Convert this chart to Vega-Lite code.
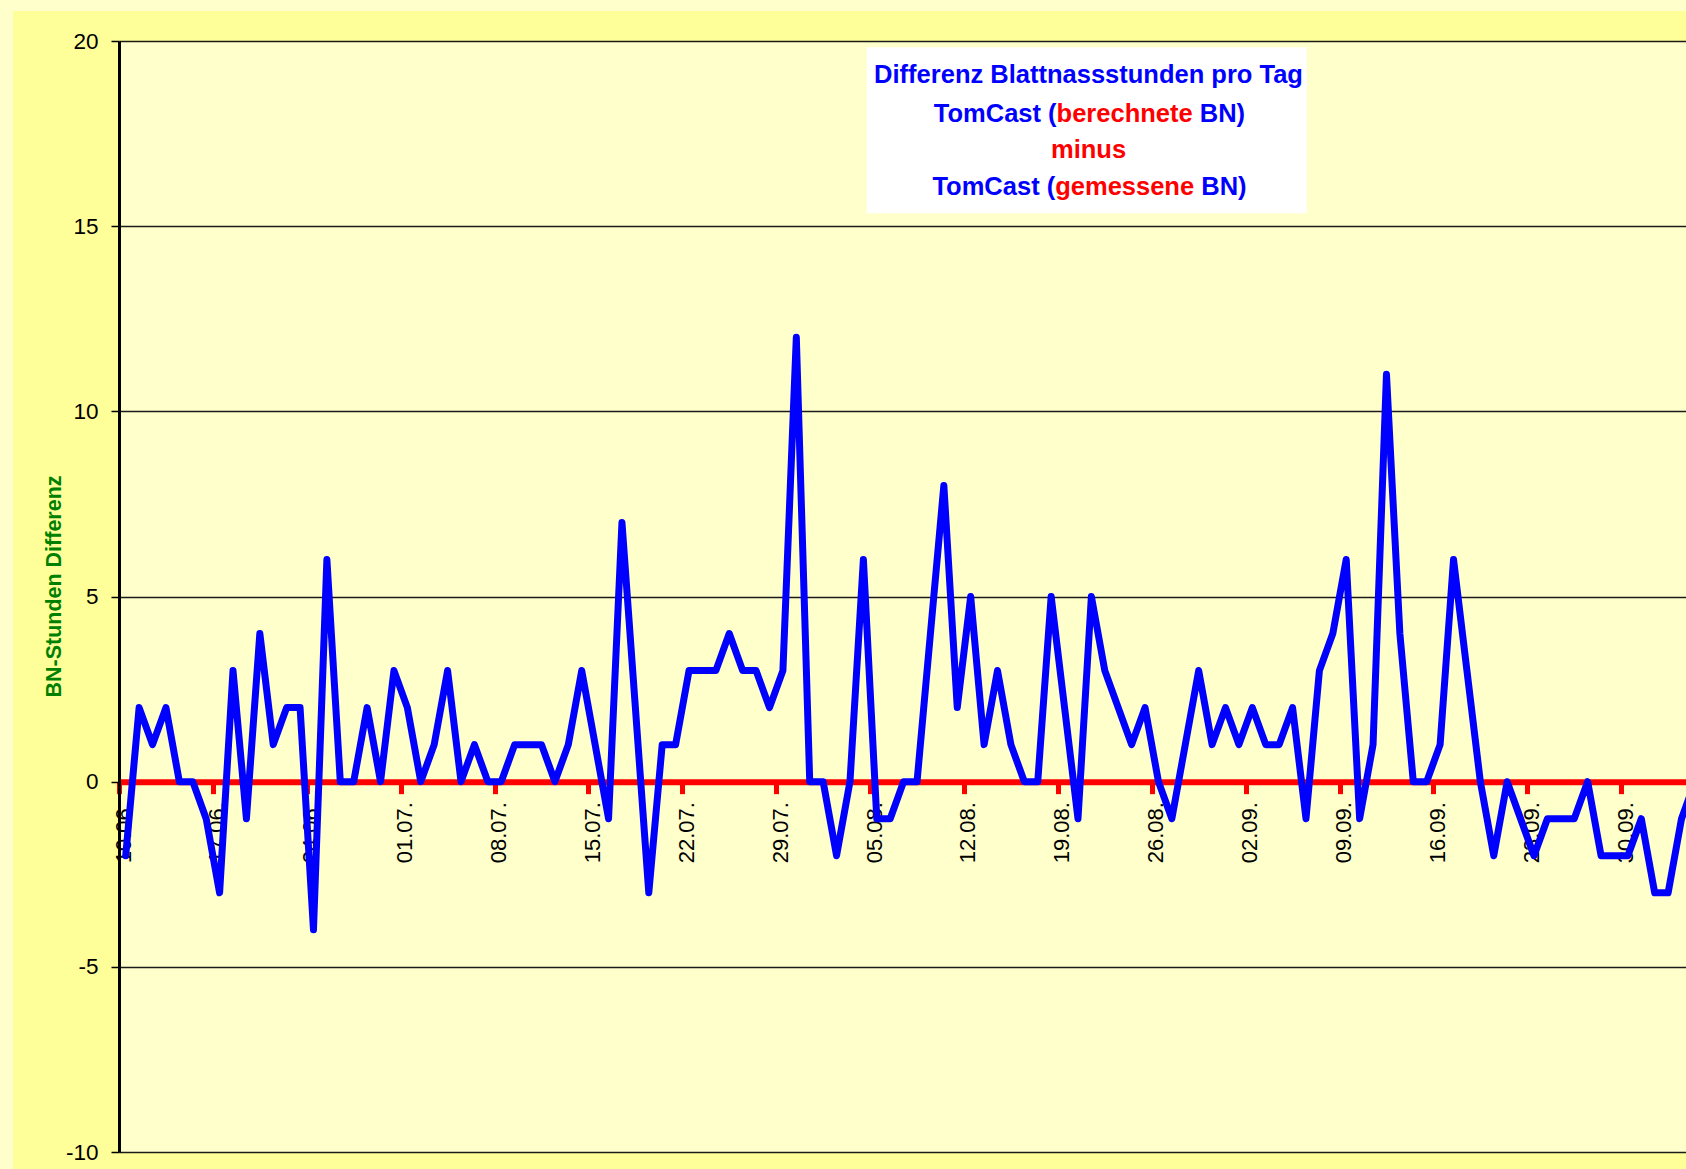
{
  "$schema": "https://vega.github.io/schema/vega-lite/v6.json",
  "autosize": "none",
  "width": 1567,
  "height": 1111,
  "padding": {"left": 119, "top": 41, "right": 0, "bottom": 17},
  "background": "#FFFF99",
  "config": {"view": {"fill": "#FFFFCC", "stroke": null}},
  "datasets": {
    "series": [
      {"date": "2008-06-10T12:00:00Z", "diff": -2},
      {"date": "2008-06-11T12:00:00Z", "diff": 2},
      {"date": "2008-06-12T12:00:00Z", "diff": 1},
      {"date": "2008-06-13T12:00:00Z", "diff": 2},
      {"date": "2008-06-14T12:00:00Z", "diff": 0},
      {"date": "2008-06-15T12:00:00Z", "diff": 0},
      {"date": "2008-06-16T12:00:00Z", "diff": -1},
      {"date": "2008-06-17T12:00:00Z", "diff": -3},
      {"date": "2008-06-18T12:00:00Z", "diff": 3},
      {"date": "2008-06-19T12:00:00Z", "diff": -1},
      {"date": "2008-06-20T12:00:00Z", "diff": 4},
      {"date": "2008-06-21T12:00:00Z", "diff": 1},
      {"date": "2008-06-22T12:00:00Z", "diff": 2},
      {"date": "2008-06-23T12:00:00Z", "diff": 2},
      {"date": "2008-06-24T12:00:00Z", "diff": -4},
      {"date": "2008-06-25T12:00:00Z", "diff": 6},
      {"date": "2008-06-26T12:00:00Z", "diff": 0},
      {"date": "2008-06-27T12:00:00Z", "diff": 0},
      {"date": "2008-06-28T12:00:00Z", "diff": 2},
      {"date": "2008-06-29T12:00:00Z", "diff": 0},
      {"date": "2008-06-30T12:00:00Z", "diff": 3},
      {"date": "2008-07-01T12:00:00Z", "diff": 2},
      {"date": "2008-07-02T12:00:00Z", "diff": 0},
      {"date": "2008-07-03T12:00:00Z", "diff": 1},
      {"date": "2008-07-04T12:00:00Z", "diff": 3},
      {"date": "2008-07-05T12:00:00Z", "diff": 0},
      {"date": "2008-07-06T12:00:00Z", "diff": 1},
      {"date": "2008-07-07T12:00:00Z", "diff": 0},
      {"date": "2008-07-08T12:00:00Z", "diff": 0},
      {"date": "2008-07-09T12:00:00Z", "diff": 1},
      {"date": "2008-07-10T12:00:00Z", "diff": 1},
      {"date": "2008-07-11T12:00:00Z", "diff": 1},
      {"date": "2008-07-12T12:00:00Z", "diff": 0},
      {"date": "2008-07-13T12:00:00Z", "diff": 1},
      {"date": "2008-07-14T12:00:00Z", "diff": 3},
      {"date": "2008-07-15T12:00:00Z", "diff": 1},
      {"date": "2008-07-16T12:00:00Z", "diff": -1},
      {"date": "2008-07-17T12:00:00Z", "diff": 7},
      {"date": "2008-07-18T12:00:00Z", "diff": 2},
      {"date": "2008-07-19T12:00:00Z", "diff": -3},
      {"date": "2008-07-20T12:00:00Z", "diff": 1},
      {"date": "2008-07-21T12:00:00Z", "diff": 1},
      {"date": "2008-07-22T12:00:00Z", "diff": 3},
      {"date": "2008-07-23T12:00:00Z", "diff": 3},
      {"date": "2008-07-24T12:00:00Z", "diff": 3},
      {"date": "2008-07-25T12:00:00Z", "diff": 4},
      {"date": "2008-07-26T12:00:00Z", "diff": 3},
      {"date": "2008-07-27T12:00:00Z", "diff": 3},
      {"date": "2008-07-28T12:00:00Z", "diff": 2},
      {"date": "2008-07-29T12:00:00Z", "diff": 3},
      {"date": "2008-07-30T12:00:00Z", "diff": 12},
      {"date": "2008-07-31T12:00:00Z", "diff": 0},
      {"date": "2008-08-01T12:00:00Z", "diff": 0},
      {"date": "2008-08-02T12:00:00Z", "diff": -2},
      {"date": "2008-08-03T12:00:00Z", "diff": 0},
      {"date": "2008-08-04T12:00:00Z", "diff": 6},
      {"date": "2008-08-05T12:00:00Z", "diff": -1},
      {"date": "2008-08-06T12:00:00Z", "diff": -1},
      {"date": "2008-08-07T12:00:00Z", "diff": 0},
      {"date": "2008-08-08T12:00:00Z", "diff": 0},
      {"date": "2008-08-09T12:00:00Z", "diff": 4},
      {"date": "2008-08-10T12:00:00Z", "diff": 8},
      {"date": "2008-08-11T12:00:00Z", "diff": 2},
      {"date": "2008-08-12T12:00:00Z", "diff": 5},
      {"date": "2008-08-13T12:00:00Z", "diff": 1},
      {"date": "2008-08-14T12:00:00Z", "diff": 3},
      {"date": "2008-08-15T12:00:00Z", "diff": 1},
      {"date": "2008-08-16T12:00:00Z", "diff": 0},
      {"date": "2008-08-17T12:00:00Z", "diff": 0},
      {"date": "2008-08-18T12:00:00Z", "diff": 5},
      {"date": "2008-08-19T12:00:00Z", "diff": 2},
      {"date": "2008-08-20T12:00:00Z", "diff": -1},
      {"date": "2008-08-21T12:00:00Z", "diff": 5},
      {"date": "2008-08-22T12:00:00Z", "diff": 3},
      {"date": "2008-08-23T12:00:00Z", "diff": 2},
      {"date": "2008-08-24T12:00:00Z", "diff": 1},
      {"date": "2008-08-25T12:00:00Z", "diff": 2},
      {"date": "2008-08-26T12:00:00Z", "diff": 0},
      {"date": "2008-08-27T12:00:00Z", "diff": -1},
      {"date": "2008-08-28T12:00:00Z", "diff": 1},
      {"date": "2008-08-29T12:00:00Z", "diff": 3},
      {"date": "2008-08-30T12:00:00Z", "diff": 1},
      {"date": "2008-08-31T12:00:00Z", "diff": 2},
      {"date": "2008-09-01T12:00:00Z", "diff": 1},
      {"date": "2008-09-02T12:00:00Z", "diff": 2},
      {"date": "2008-09-03T12:00:00Z", "diff": 1},
      {"date": "2008-09-04T12:00:00Z", "diff": 1},
      {"date": "2008-09-05T12:00:00Z", "diff": 2},
      {"date": "2008-09-06T12:00:00Z", "diff": -1},
      {"date": "2008-09-07T12:00:00Z", "diff": 3},
      {"date": "2008-09-08T12:00:00Z", "diff": 4},
      {"date": "2008-09-09T12:00:00Z", "diff": 6},
      {"date": "2008-09-10T12:00:00Z", "diff": -1},
      {"date": "2008-09-11T12:00:00Z", "diff": 1},
      {"date": "2008-09-12T12:00:00Z", "diff": 11},
      {"date": "2008-09-13T12:00:00Z", "diff": 4},
      {"date": "2008-09-14T12:00:00Z", "diff": 0},
      {"date": "2008-09-15T12:00:00Z", "diff": 0},
      {"date": "2008-09-16T12:00:00Z", "diff": 1},
      {"date": "2008-09-17T12:00:00Z", "diff": 6},
      {"date": "2008-09-18T12:00:00Z", "diff": 3},
      {"date": "2008-09-19T12:00:00Z", "diff": 0},
      {"date": "2008-09-20T12:00:00Z", "diff": -2},
      {"date": "2008-09-21T12:00:00Z", "diff": 0},
      {"date": "2008-09-22T12:00:00Z", "diff": -1},
      {"date": "2008-09-23T12:00:00Z", "diff": -2},
      {"date": "2008-09-24T12:00:00Z", "diff": -1},
      {"date": "2008-09-25T12:00:00Z", "diff": -1},
      {"date": "2008-09-26T12:00:00Z", "diff": -1},
      {"date": "2008-09-27T12:00:00Z", "diff": 0},
      {"date": "2008-09-28T12:00:00Z", "diff": -2},
      {"date": "2008-09-29T12:00:00Z", "diff": -2},
      {"date": "2008-09-30T12:00:00Z", "diff": -2},
      {"date": "2008-10-01T12:00:00Z", "diff": -1},
      {"date": "2008-10-02T12:00:00Z", "diff": -3},
      {"date": "2008-10-03T12:00:00Z", "diff": -3},
      {"date": "2008-10-04T12:00:00Z", "diff": -1},
      {"date": "2008-10-05T12:00:00Z", "diff": 0}
    ]
  },
  "layer": [
    {
      "data": {"values": [{}]},
      "mark": {"type": "rect", "fill": "#FFFFCC", "clip": false},
      "encoding": {
        "x": {"datum": {"year": 2008, "month": 5, "date": 1, "utc": true}, "type": "temporal"},
        "x2": {"datum": {"year": 2008, "month": 6, "date": 2, "hours": 2, "minutes": 19, "utc": true}},
        "y": {"datum": 30, "type": "quantitative"},
        "y2": {"datum": -20}
      }
    },
    {
      "data": {"values": [{}]},
      "mark": {"type": "rect", "fill": "#FFFFCC", "clip": false},
      "encoding": {
        "x": {"datum": {"year": 2008, "month": 5, "date": 1, "utc": true}, "type": "temporal"},
        "x2": {"datum": {"year": 2008, "month": 12, "date": 1, "utc": true}},
        "y": {"datum": 30, "type": "quantitative"},
        "y2": {"datum": 20.81}
      }
    },
    {
      "data": {"name": "series"},
      "mark": {"type": "line", "color": "#0000FF", "strokeWidth": 7, "strokeJoin": "round", "strokeCap": "round", "clip": true},
      "encoding": {
        "x": {
          "field": "date",
          "type": "temporal",
          "scale": {
            "type": "utc",
            "nice": false,
            "domain": [
              {"year": 2008, "month": 6, "date": 10, "utc": true},
              {"year": 2008, "month": 10, "date": 4, "hours": 20, "utc": true}
            ]
          },
          "axis": {
            "title": null,
            "orient": "bottom",
            "offset": -370.33,
            "format": "%d.%m.",
            "values": [
              {"year": 2008, "month": 6, "date": 10, "utc": true},
              {"year": 2008, "month": 6, "date": 17, "utc": true},
              {"year": 2008, "month": 6, "date": 24, "utc": true},
              {"year": 2008, "month": 7, "date": 1, "utc": true},
              {"year": 2008, "month": 7, "date": 8, "utc": true},
              {"year": 2008, "month": 7, "date": 15, "utc": true},
              {"year": 2008, "month": 7, "date": 22, "utc": true},
              {"year": 2008, "month": 7, "date": 29, "utc": true},
              {"year": 2008, "month": 8, "date": 5, "utc": true},
              {"year": 2008, "month": 8, "date": 12, "utc": true},
              {"year": 2008, "month": 8, "date": 19, "utc": true},
              {"year": 2008, "month": 8, "date": 26, "utc": true},
              {"year": 2008, "month": 9, "date": 2, "utc": true},
              {"year": 2008, "month": 9, "date": 9, "utc": true},
              {"year": 2008, "month": 9, "date": 16, "utc": true},
              {"year": 2008, "month": 9, "date": 23, "utc": true},
              {"year": 2008, "month": 9, "date": 30, "utc": true}
            ],
            "grid": false,
            "domainColor": "#FF0000",
            "domainWidth": 6,
            "tickColor": "#FF0000",
            "tickWidth": 5,
            "tickSize": 12,
            "labelAngle": -90,
            "labelPadding": 8,
            "labelOffset": 4,
            "labelFont": "Liberation Sans",
            "labelFontSize": 22,
            "labelColor": "#000000",
            "labelOverlap": false,
            "labelFlush": false
          }
        },
        "y": {
          "field": "diff",
          "type": "quantitative",
          "scale": {"domain": [-10, 20], "nice": false, "zero": false},
          "axis": {
            "title": "BN-Stunden Differenz",
            "titleFont": "Liberation Sans",
            "titleFontSize": 21.5,
            "titleFontWeight": "bold",
            "titleColor": "#008000",
            "titlePadding": 0,
            "titleY": 545,
            "values": [-10, -5, 0, 5, 10, 15, 20],
            "labelExpr": "'' + datum.value",
            "grid": true,
            "gridColor": "#1a1a1a",
            "gridWidth": 1.5,
            "domainColor": "#000000",
            "domainWidth": 3,
            "tickColor": "#000000",
            "tickWidth": 1.5,
            "tickSize": 8,
            "labelPadding": 13,
            "labelFont": "Liberation Sans",
            "labelFontSize": 22.5,
            "labelColor": "#000000"
          }
        }
      }
    },
    {
      "data": {"values": [{}]},
      "mark": {"type": "rect", "fill": "#FFFFFF"},
      "encoding": {
        "x": {"datum": {"year": 2008, "month": 8, "date": 4, "hours": 17, "minutes": 58, "utc": true}, "type": "temporal"},
        "x2": {"datum": {"year": 2008, "month": 9, "date": 6, "hours": 13, "minutes": 19, "utc": true}},
        "y": {"datum": 19.83, "type": "quantitative"},
        "y2": {"datum": 15.347}
      }
    },
    {
      "data": {"values": [{}]},
      "mark": {"type": "text", "text": "Differenz Blattnassstunden pro Tag", "font": "Liberation Sans", "fontSize": 25.5, "fontWeight": "bold", "color": "#0000FF", "align": "center", "baseline": "alphabetic"},
      "encoding": {
        "x": {"datum": {"year": 2008, "month": 8, "date": 21, "hours": 6, "minutes": 52, "utc": true}, "type": "temporal"},
        "y": {"datum": 18.858, "type": "quantitative"}
      }
    },
    {
      "data": {"values": [{}]},
      "mark": {"type": "text", "text": "TomCast (", "font": "Liberation Sans", "fontSize": 25.5, "fontWeight": "bold", "color": "#0000FF", "align": "right", "baseline": "alphabetic"},
      "encoding": {
        "x": {"datum": {"year": 2008, "month": 8, "date": 18, "hours": 21, "minutes": 46, "utc": true}, "type": "temporal"},
        "y": {"datum": 17.821, "type": "quantitative"}
      }
    },
    {
      "data": {"values": [{}]},
      "mark": {"type": "text", "text": "berechnete", "font": "Liberation Sans", "fontSize": 25.5, "fontWeight": "bold", "color": "#FF0000", "align": "left", "baseline": "alphabetic"},
      "encoding": {
        "x": {"datum": {"year": 2008, "month": 8, "date": 18, "hours": 21, "minutes": 46, "utc": true}, "type": "temporal"},
        "y": {"datum": 17.821, "type": "quantitative"}
      }
    },
    {
      "data": {"values": [{}]},
      "mark": {"type": "text", "text": "BN)", "font": "Liberation Sans", "fontSize": 25.5, "fontWeight": "bold", "color": "#0000FF", "align": "left", "baseline": "alphabetic"},
      "encoding": {
        "x": {"datum": {"year": 2008, "month": 8, "date": 29, "hours": 13, "minutes": 52, "utc": true}, "type": "temporal"},
        "y": {"datum": 17.821, "type": "quantitative"}
      }
    },
    {
      "data": {"values": [{}]},
      "mark": {"type": "text", "text": "minus", "font": "Liberation Sans", "fontSize": 25.5, "fontWeight": "bold", "color": "#FF0000", "align": "center", "baseline": "alphabetic"},
      "encoding": {
        "x": {"datum": {"year": 2008, "month": 8, "date": 21, "hours": 6, "minutes": 52, "utc": true}, "type": "temporal"},
        "y": {"datum": 16.833, "type": "quantitative"}
      }
    },
    {
      "data": {"values": [{}]},
      "mark": {"type": "text", "text": "TomCast (", "font": "Liberation Sans", "fontSize": 25.5, "fontWeight": "bold", "color": "#0000FF", "align": "right", "baseline": "alphabetic"},
      "encoding": {
        "x": {"datum": {"year": 2008, "month": 8, "date": 18, "hours": 19, "minutes": 16, "utc": true}, "type": "temporal"},
        "y": {"datum": 15.842, "type": "quantitative"}
      }
    },
    {
      "data": {"values": [{}]},
      "mark": {"type": "text", "text": "gemessene", "font": "Liberation Sans", "fontSize": 25.5, "fontWeight": "bold", "color": "#FF0000", "align": "left", "baseline": "alphabetic"},
      "encoding": {
        "x": {"datum": {"year": 2008, "month": 8, "date": 18, "hours": 19, "minutes": 16, "utc": true}, "type": "temporal"},
        "y": {"datum": 15.842, "type": "quantitative"}
      }
    },
    {
      "data": {"values": [{}]},
      "mark": {"type": "text", "text": "BN)", "font": "Liberation Sans", "fontSize": 25.5, "fontWeight": "bold", "color": "#0000FF", "align": "left", "baseline": "alphabetic"},
      "encoding": {
        "x": {"datum": {"year": 2008, "month": 8, "date": 29, "hours": 16, "minutes": 34, "utc": true}, "type": "temporal"},
        "y": {"datum": 15.842, "type": "quantitative"}
      }
    }
  ]
}
